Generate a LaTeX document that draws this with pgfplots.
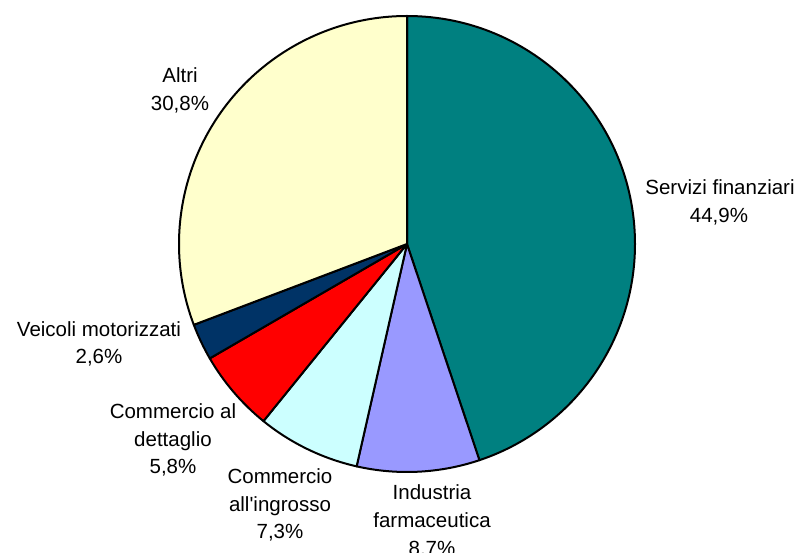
\documentclass[border=0pt]{standalone}
\usepackage{pgfplots}
\pgfplotsset{compat=1.18}
\usepackage{fontspec}
\setmainfont{Liberation Sans}
\newfontfamily\lsans[Ligatures=ResetAll]{Liberation Sans}
\definecolor{cA}{HTML}{008080}
\definecolor{cB}{HTML}{9999FF}
\definecolor{cC}{HTML}{CCFFFF}
\definecolor{cD}{HTML}{FF0000}
\definecolor{cE}{HTML}{003366}
\definecolor{cF}{HTML}{FFFFCC}
\newcommand\lbl{\lsans\fontsize{20.5}{27}\selectfont}
\begin{document}
\begin{tikzpicture}
% shares (%), clockwise from 12 o'clock
\def\vA{44.9}\def\vB{8.7}\def\vC{7.3}\def\vD{5.8}\def\vE{2.6}\def\vF{30.8}
\pgfmathsetmacro\tot{\vA+\vB+\vC+\vD+\vE+\vF}
\pgfmathsetmacro\aO{90}
\pgfmathsetmacro\aA{\aO-\vA*360/\tot}
\pgfmathsetmacro\aB{\aA-\vB*360/\tot}
\pgfmathsetmacro\aC{\aB-\vC*360/\tot}
\pgfmathsetmacro\aD{\aC-\vD*360/\tot}
\pgfmathsetmacro\aE{\aD-\vE*360/\tot}
\pgfmathsetmacro\aF{\aE-\vF*360/\tot}
\newcommand\slice[3]{\filldraw[fill=#3,draw=black,line width=2pt,line join=round]
  (axis cs:407,308) -- ++(#1:228pt) arc[start angle=#1,end angle=#2,radius=228pt] -- cycle;}
\begin{axis}[
  scale only axis, width=798pt, height=552pt,
  xmin=0, xmax=798, ymin=0, ymax=552,
  hide axis, clip=false]
\slice{\aO}{\aA}{cA}
\slice{\aA}{\aB}{cB}
\slice{\aB}{\aC}{cC}
\slice{\aC}{\aD}{cD}
\slice{\aD}{\aE}{cE}
\slice{\aE}{\aF}{cF}
\node[anchor=base,font=\lbl] at (axis cs:720,357) {Servizi finanziari};
\node[anchor=base,font=\lbl] at (axis cs:719,329) {44,9\%};
\node[anchor=base,font=\lbl] at (axis cs:432,53) {Industria};
\node[anchor=base,font=\lbl] at (axis cs:432,25) {farmaceutica};
\node[anchor=base,font=\lbl] at (axis cs:432,-3) {8,7\%};
\node[anchor=base,font=\lbl] at (axis cs:280,69) {Commercio};
\node[anchor=base,font=\lbl] at (axis cs:280,41) {all'ingrosso};
\node[anchor=base,font=\lbl] at (axis cs:280,14) {7,3\%};
\node[anchor=base,font=\lbl] at (axis cs:173,133) {Commercio al};
\node[anchor=base,font=\lbl] at (axis cs:173,106) {dettaglio};
\node[anchor=base,font=\lbl] at (axis cs:173,79) {5,8\%};
\node[anchor=base,font=\lbl] at (axis cs:99,215) {Veicoli motorizzati};
\node[anchor=base,font=\lbl] at (axis cs:99,188) {2,6\%};
\node[anchor=base,font=\lbl] at (axis cs:180,469) {Altri};
\node[anchor=base,font=\lbl] at (axis cs:180,441) {30,8\%};
\end{axis}
\pgfresetboundingbox
\useasboundingbox (current axis.south west) rectangle (current axis.north east);
\end{tikzpicture}
\end{document}
